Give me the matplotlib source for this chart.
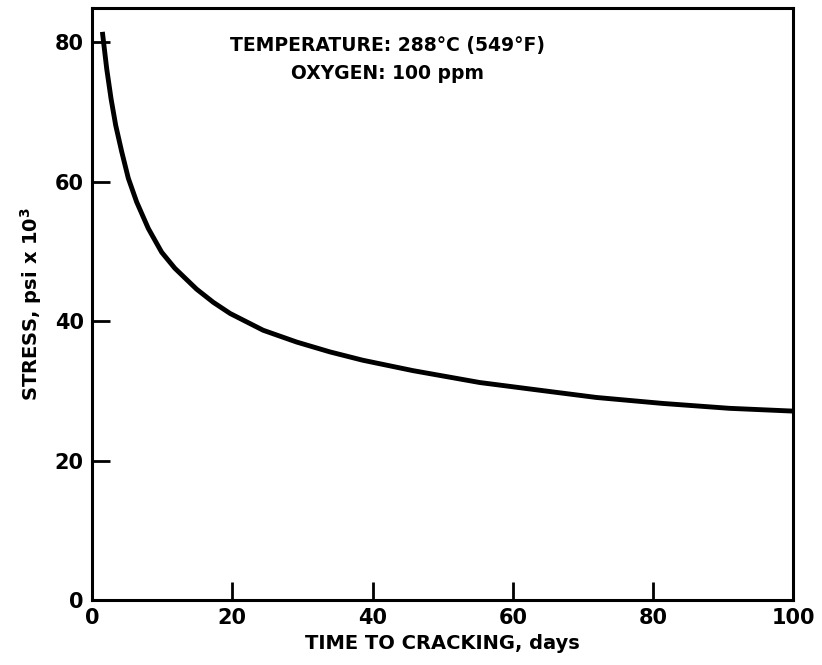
import matplotlib
matplotlib.use("Agg")
import matplotlib.pyplot as plt

# curve
days = [1.47, 2.09, 2.71, 3.37, 4.23, 5.17, 6.36, 8.02, 9.92, 11.8, 14.9, 17.3,
        19.7, 24.4, 29.2, 33.9, 38.6, 45.8, 55.3, 63.8, 71.9, 81.4, 90.9, 100.0]
stress = [81.5, 76.2, 71.9, 68.1, 64.3, 60.5, 57.1, 53.3, 49.9, 47.6, 44.6, 42.7,
          41.1, 38.7, 37.0, 35.6, 34.4, 32.9, 31.2, 30.1, 29.06, 28.2, 27.5, 27.1]

x_ticks = [0, 20, 40, 60, 80, 100]
y_ticks = [0, 20, 40, 60, 80]
x_ticklabels = ["0", "20", "40", "60", "80", "100"]
y_ticklabels = ["0", "20", "40", "60", "80"]

plt.rcParams["font.family"] = ["DejaVu Sans"]
plt.rcParams["font.weight"] = "bold"

fig = plt.figure(figsize=(8.22, 6.65), dpi=100)
ax = fig.add_axes([0.112, 0.0977, 0.853, 0.890])

ax.plot(days, stress, color="black", linewidth=3.5,
        solid_capstyle="butt", solid_joinstyle="round")

ax.set_xlim(0, 100)
ax.set_ylim(0, 84.9)
ax.set_xticks(x_ticks)
ax.set_xticklabels(x_ticklabels)
ax.set_yticks(y_ticks)
ax.set_yticklabels(y_ticklabels)
ax.tick_params(direction="in", length=13, width=2, labelsize=15, pad=6)

for s in ax.spines.values():
    s.set_linewidth(2.2)

ax.set_xlabel("TIME TO CRACKING, days", fontsize=14, fontweight="bold", labelpad=4)
ax.set_ylabel(r"STRESS, psi x 10$^\mathbf{3}$", fontsize=14, fontweight="bold", labelpad=8)

ax.text(42.2, 77.6, "TEMPERATURE: 288°C (549°F)\nOXYGEN: 100 ppm",
        ha="center", va="center", fontsize=13.5, fontweight="bold",
        linespacing=1.6)

fig.savefig("out.png", dpi=100)
